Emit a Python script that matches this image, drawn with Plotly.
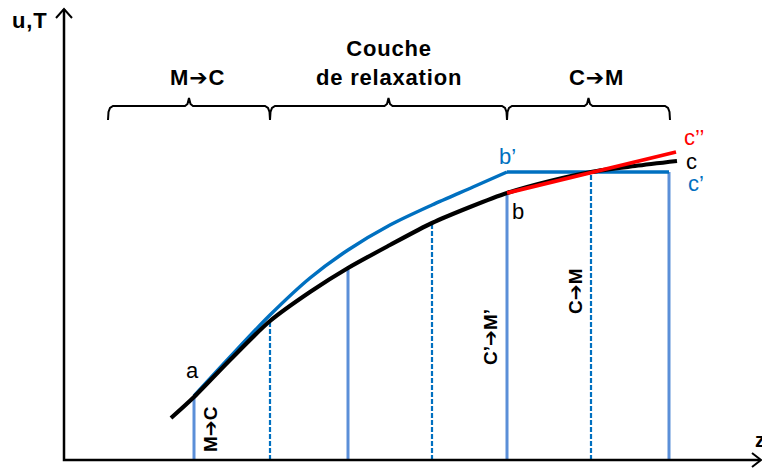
import plotly.graph_objects as go

# ---- data (z along the axis, u/T upward; origin at the axes corner) ----
black_z = [107, 130, 166, 206, 246, 284, 326, 368, 406, 443, 486, 527, 571, 613]
black_u = [42, 63, 100, 139, 168, 192, 215, 237, 253, 267, 279, 288, 294, 299]

blue_z = [130, 166, 206, 246, 284, 326, 368, 409, 443]
blue_u = [64, 103, 145, 182, 210, 235, 255, 273, 288]
plateau_z = [443, 605]
plateau_u = [288, 288]

red_z = [443, 612]
red_u = [267, 308]

solid_z = [130, 284, 443, 605]
solid_top = [63, 193, 267, 288]
dashed_z = [206, 368, 527]
dashed_top = [139, 237, 288]

zone_edges = [44, 206, 443, 606]
ARW = '<span style="font-family:DejaVu Sans">\u2794</span>'
zone_labels = ["M" + ARW + "C", "Couche<br>de relaxation", "C" + ARW + "M"]

FONT = "Liberation Sans, Arial, sans-serif"
BLACK = "#000000"
BLUE = "#0070C0"
LBLUE = "#5B8FD8"
RED = "#FF0000"

fig = go.Figure()

def line(x, y, color, width, dash="solid", shape="linear"):
    fig.add_trace(go.Scatter(x=x, y=y, mode="lines",
                             line=dict(color=color, width=width, dash=dash, shape=shape, smoothing=0.8),
                             hoverinfo="skip", showlegend=False))

# vertical lines
for z, t in zip(solid_z, solid_top):
    line([z, z], [0, t], LBLUE, 3)
for z, t in zip(dashed_z, dashed_top):
    line([z, z], [0, t], BLUE, 2.2, dash="5px,2px")

# curves
line(blue_z, blue_u, BLUE, 3.5, shape="spline")
line(plateau_z, plateau_u, BLUE, 3.5)
line(black_z, black_u, BLACK, 4.2, shape="spline")
line(red_z, red_u, RED, 3.8)

# axes with open arrow heads
line([0, 0, 696], [451, 0, 0], BLACK, 2.5)
line([-8, 0, 8], [442, 451, 442], BLACK, 2)
line([688, 697, 688], [7, 0, -7], BLACK, 2)

# braces
by, hook, bump = 354, 340, 8
for a, b in zip(zone_edges[:-1], zone_edges[1:]):
    m = (a + b) / 2
    xs = [a, a + 0.5, a + 2, a + 5, m - 4, m - 1.5, m, m + 1.5, m + 4, b - 5, b - 2, b - 0.5, b]
    ys = [hook, by - 6, by - 2, by, by, by + 2, by + bump, by + 2, by, by, by - 2, by - 6, hook]
    line(xs, ys, BLACK, 2)

ann = []
def text(x, y, s, size, color=BLACK, bold=False, angle=0):
    ann.append(dict(x=x, y=y, xref="x", yref="y", text=("<b>%s</b>" % s) if bold else s,
                    showarrow=False, xanchor="center", yanchor="middle", textangle=angle,
                    font=dict(family=FONT, size=size, color=color)))

SP = '<span style="letter-spacing:0.8px">%s</span>'

text(-35, 440, SP % "u,T", 22, bold=True)
text(696, 20, "z", 20, bold=True)

for (a, b), lab, dx in zip(zip(zone_edges[:-1], zone_edges[1:]), zone_labels, [8, 0, 8]):
    m = (a + b) / 2 + dx
    if "<br>" in lab:
        parts = lab.split("<br>")
        ann.append(dict(x=m, y=397, xref="x", yref="y",
                        text="<br>".join("<b>" + (SP % p) + "</b>" for p in parts), showarrow=False,
                        xanchor="center", yanchor="middle",
                        font=dict(family=FONT, size=22, color=BLACK)))
    else:
        text(m, 383, SP % lab, 22, bold=True)

text(128, 90, "a", 22)
text(454, 249, "b", 22)
text(443, 304, "b\u2019", 22, color=BLUE)
text(630, 323, "c\u2019\u2019", 22, color=RED)
text(627, 299, "c", 22)
text(632, 277, "c\u2019", 22, color=BLUE)

text(146, 31, "M" + ARW + "C", 19, bold=True, angle=-90)
text(426, 123, "C\u2019" + ARW + "M\u2019", 19, bold=True, angle=-90)
text(511, 168, "C" + ARW + "M", 19, bold=True, angle=-90)

fig.update_layout(
    width=762, height=470,
    margin=dict(l=0, r=0, t=0, b=0),
    paper_bgcolor="white", plot_bgcolor="white",
    xaxis=dict(range=[-64, 698], visible=False, fixedrange=True),
    yaxis=dict(range=[-10, 460], visible=False, fixedrange=True),
    annotations=ann,
    showlegend=False,
)

fig.write_html("out.html", config={"displayModeBar": False},
               post_script="document.body.style.margin='0';document.body.style.overflow='hidden';")
